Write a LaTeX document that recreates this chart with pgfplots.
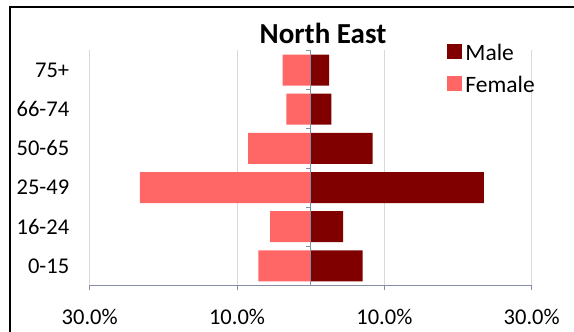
\documentclass[border=0pt]{standalone}
\usepackage{fontspec}
\setmainfont{Carlito}
\usepackage{pgfplots}
\pgfplotsset{compat=1.18}
\definecolor{male}{RGB}{128,0,0}
\definecolor{female}{RGB}{255,102,102}
\definecolor{axisc}{RGB}{134,142,166}
\definecolor{gridc}{RGB}{217,217,217}
\begin{document}
\begin{tikzpicture}[x=1pt,y=1pt]
\useasboundingbox (0,0) rectangle (574,332);
\draw[line width=2pt] (10,0) -- (10,325) -- (574,325);
\node[font=\fontsize{29}{33}\selectfont\bfseries, anchor=base, inner sep=0pt] at (323,288.7) {North East};
\begin{axis}[
  at={(89.7pt,46.5pt)}, anchor=south west, scale only axis,
  width=442pt, height=235pt,
  xmin=-30, xmax=30, ymin=-0.5, ymax=5.5,
  xbar, bar width=31pt, bar shift=0pt,
  axis x line*=bottom, axis y line*=left,
  x axis line style={axisc, line width=0.8pt, -},
  y axis line style={draw=none},
  xtick={-30,-10,10,30},
  xticklabels={30.0\%,10.0\%,10.0\%,30.0\%},
  xtick align=outside,
  major tick length=5pt,
  xtick style={axisc, line width=0.8pt},
  ytick={0,1,2,3,4,5},
  yticklabels={0-15,16-24,25-49,50-65,66-74,75+},
  ytick style={draw=none},
  xmajorgrids, grid style={gridc, line width=0.8pt},
  tick label style={font=\fontsize{22.5}{26}\selectfont, text=black},
  /pgf/number format/assume math mode=true,
  yticklabel style={xshift=-12pt},
  xticklabel style={yshift=-15pt},
  legend style={at={(rel axis cs:0.809,1.031)}, anchor=north west, draw=none, fill=none,
    font=\fontsize{23.5}{27}\selectfont, row sep=10pt, inner sep=0pt,
    nodes={inner xsep=3pt, inner ysep=0pt, text height=17pt, text depth=5pt}},
  legend cell align=left,
  legend image code/.code={\fill[#1,draw=none] (0pt,-4.5pt) rectangle (15pt,10.5pt);},
]
\addplot[fill=male, draw=none] coordinates {
  (7.05,0) (4.4,1) (23.5,2) (8.4,3) (2.8,4) (2.5,5)
};
\addlegendentry{Male}
\addplot[fill=female, draw=none] coordinates {
  (-7.1,0) (-5.5,1) (-23.2,2) (-8.5,3) (-3.3,4) (-3.8,5)
};
\addlegendentry{Female}
\draw[axisc, line width=0.8pt] (axis cs:0,-0.5) -- (axis cs:0,5.5);
\pgfplotsinvokeforeach{0.5,1.5,2.5,3.5,4.5,5.5}{
  \draw[axisc, line width=0.8pt] (axis cs:0,#1) -- ++(-5pt,0pt);
}
\end{axis}
\end{tikzpicture}
\end{document}
